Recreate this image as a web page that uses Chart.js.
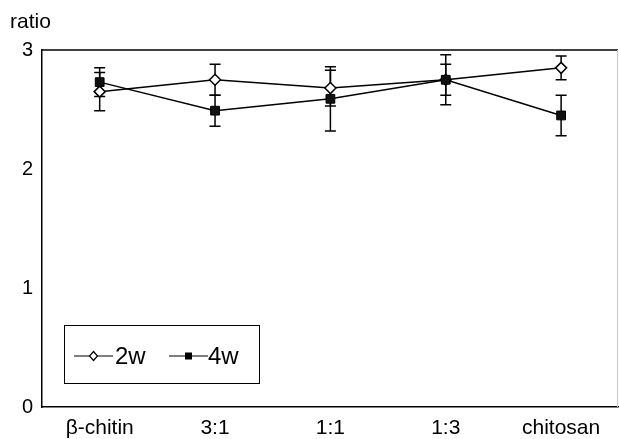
<!DOCTYPE html>
<html><head><meta charset="utf-8">
<script src="https://cdn.jsdelivr.net/npm/chart.js@4.4.0/dist/chart.umd.min.js"></script>
<style>html,body{margin:0;padding:0;background:#fff;overflow:hidden;} #wrap{width:619px;height:439px;position:relative;overflow:hidden;} canvas{display:block;}</style>
</head><body><div id="wrap"><canvas id="c" width="626" height="439"></canvas></div>
<script>
const categories = ['β-chitin', '3:1', '1:1', '1:3', 'chitosan'];
const seriesNames = ['2w', '4w'];
const values2w = [2.65, 2.75, 2.68, 2.75, 2.85];
const errors2w = [0.16, 0.13, 0.15, 0.13, 0.10];
const values4w = [2.73, 2.49, 2.59, 2.75, 2.45];
const errors4w = [0.12, 0.13, 0.27, 0.21, 0.17];
const yTicks = [0, 1, 2, 3];
const yTitle = 'ratio';

const FONT = '"Liberation Sans", Arial, Helvetica, sans-serif';
Chart.defaults.font.family = FONT;
Chart.defaults.color = '#000';

const errorSets = [errors2w, errors4w];

const extras = {
  id: 'extras',
  beforeDatasetsDraw(chart) {
    const ctx = chart.ctx, a = chart.chartArea;
    const xs = chart.scales.x, ys = chart.scales.y;
    const right = Math.min(a.right, 618);
    ctx.save();
    ctx.strokeStyle = '#000'; ctx.lineWidth = 1.5;
    ctx.beginPath(); ctx.moveTo(a.left, a.top); ctx.lineTo(right, a.top); ctx.stroke();
    ctx.strokeStyle = '#c8c8c8'; ctx.lineWidth = 1;
    ctx.beginPath(); ctx.moveTo(right - 0.5, a.top); ctx.lineTo(right - 0.5, a.bottom); ctx.stroke();
    ctx.strokeStyle = '#000'; ctx.lineWidth = 1.5;
    chart.data.datasets.forEach((ds, di) => {
      const errs = errorSets[di];
      ds.data.forEach((v, i) => {
        const x = xs.getPixelForValue(i);
        const yt = ys.getPixelForValue(v + errs[i]);
        const yb = ys.getPixelForValue(v - errs[i]);
        ctx.beginPath();
        ctx.moveTo(x, yt); ctx.lineTo(x, yb);
        ctx.moveTo(x - 5.5, yt); ctx.lineTo(x + 5.5, yt);
        ctx.moveTo(x - 5.5, yb); ctx.lineTo(x + 5.5, yb);
        ctx.stroke();
      });
    });
    ctx.restore();
  },
  afterDraw(chart) {
    const ctx = chart.ctx;
    ctx.save();
    ctx.fillStyle = '#000';
    ctx.font = '21px ' + FONT;
    ctx.textBaseline = 'alphabetic';
    ctx.textAlign = 'left';
    ctx.fillText(yTitle, 10, 28);
    const bx = 64.5, by = 325.5, bw = 195, bh = 58;
    ctx.fillStyle = '#fff';
    ctx.fillRect(bx, by, bw, bh);
    ctx.strokeStyle = '#000'; ctx.lineWidth = 1;
    ctx.strokeRect(bx, by, bw, bh);
    const cy = 356;
    const items = [
      {x0: 74, x1: 113, label: seriesNames[0], tx: 115, shape: 'diamond'},
      {x0: 169, x1: 208, label: seriesNames[1], tx: 208, shape: 'square'}
    ];
    ctx.font = '24px ' + FONT;
    ctx.textBaseline = 'middle';
    items.forEach(it => {
      ctx.strokeStyle = '#000'; ctx.lineWidth = 1.2;
      ctx.beginPath(); ctx.moveTo(it.x0, cy); ctx.lineTo(it.x1, cy); ctx.stroke();
      const mx = (it.x0 + it.x1) / 2;
      if (it.shape === 'diamond') {
        ctx.beginPath();
        ctx.moveTo(mx, cy - 4.5); ctx.lineTo(mx + 4, cy); ctx.lineTo(mx, cy + 4.5); ctx.lineTo(mx - 4, cy); ctx.closePath();
        ctx.fillStyle = '#fff'; ctx.fill(); ctx.lineWidth = 1.2; ctx.stroke();
      } else {
        ctx.fillStyle = '#000';
        ctx.fillRect(mx - 3.5, cy - 3.5, 7, 7);
      }
      ctx.fillStyle = '#000';
      ctx.fillText(it.label, it.tx, cy + 1);
    });
    ctx.restore();
  }
};

new Chart(document.getElementById('c'), {
  type: 'line',
  data: {
    labels: categories,
    datasets: [
      {
        label: seriesNames[0], data: values2w, order: 2,
        borderColor: '#000', borderWidth: 1.5, tension: 0,
        pointStyle: 'rectRot', pointRadius: 5.5, pointBorderWidth: 1.5,
        pointBackgroundColor: '#fff', pointBorderColor: '#000'
      },
      {
        label: seriesNames[1], data: values4w, order: 1,
        borderColor: '#000', borderWidth: 1.5, tension: 0,
        pointStyle: 'rect', pointRadius: 6.2, pointBorderWidth: 1,
        pointBackgroundColor: '#111', pointBorderColor: '#000'
      }
    ]
  },
  options: {
    responsive: false,
    animation: false,
    devicePixelRatio: 1,
    layout: { padding: { top: 50, left: 0, right: 1, bottom: 0 } },
    plugins: { legend: { display: false }, tooltip: { enabled: false }, title: { display: false } },
    scales: {
      x: {
        offset: true,
        grid: { display: false, drawTicks: false },
        border: { display: true, color: '#000', width: 1.5 },
        ticks: { font: { size: 21 }, padding: 9, color: '#000', maxRotation: 0, autoSkip: false },
        afterFit(s) { s.height = 32; s.paddingLeft = 0; s.paddingRight = 0; }
      },
      y: {
        min: 0, max: 3,
        grid: { display: false, drawTicks: false },
        border: { display: true, color: '#000', width: 1.5 },
        ticks: { font: { size: 20 }, padding: 9, color: '#000', callback: v => String(v) },
        afterBuildTicks(s) { s.ticks = yTicks.map(v => ({ value: v })); },
        afterFit(s) { s.width = 42; }
      }
    }
  },
  plugins: [extras]
});
</script>
</body></html>
